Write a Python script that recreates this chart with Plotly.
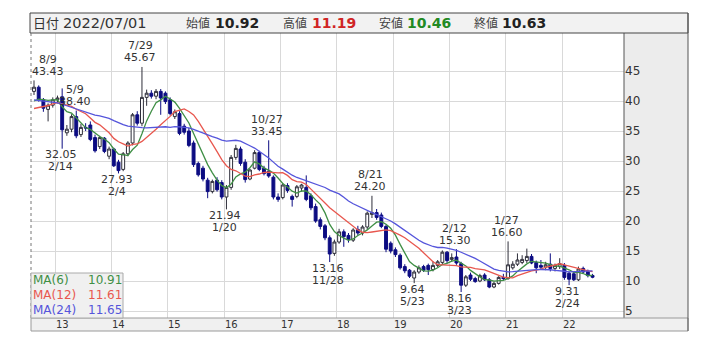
import pandas as pd
import plotly.graph_objects as go

# ---------------- data ----------------
months = pd.period_range("2012-08", periods=120, freq="M")

opens = [41.6, 42.3, 40.2, 38.6, 39.3, 40.2, 40.7, 34.7, 35.3, 37.4,
         34.4, 35.6, 36.0, 33.9, 32.4, 33.8, 30.8, 32.0, 29.8, 28.6,
         31.2, 33.0, 37.7, 36.3, 40.6, 41.3, 40.8, 41.6, 41.3, 40.2,
         37.4, 37.9, 35.8, 35.0, 33.0, 29.6, 28.8, 26.8, 24.9, 26.8,
         26.4, 24.0, 25.6, 30.6, 32.0, 29.8, 27.0, 28.8, 31.4, 28.8,
         28.3, 27.3, 24.0, 23.9, 25.9, 24.1, 24.1, 25.5, 25.6, 24.2,
         22.4, 20.2, 19.2, 17.2, 14.6, 16.5, 18.2, 17.6, 16.8, 18.6,
         18.0, 19.0, 21.1, 21.4, 21.0, 19.1, 16.3, 15.2, 14.3, 12.4,
         11.8, 10.5, 11.5, 12.4, 12.6, 11.9, 12.6, 13.1, 14.8, 13.6,
         14.0, 12.9, 9.3, 11.0, 10.4, 10.0, 11.0, 10.2, 9.0, 9.6,
         10.6, 10.4, 12.2, 12.8, 13.1, 13.4, 14.1, 13.1, 12.6, 12.3,
         12.8, 12.1, 12.4, 12.6, 11.3, 11.2, 10.2, 12.1, 11.6, 10.92]
highs = [43.43, 42.6, 40.5, 39.6, 40.6, 40.9, 42.1, 36.0, 37.8, 38.40,
         36.2, 36.3, 36.6, 34.4, 34.2, 34.0, 32.4, 32.2, 30.2, 31.5,
         33.3, 38.0, 38.3, 45.67, 41.9, 41.8, 42.0, 42.0, 41.6, 40.6,
         38.6, 38.3, 36.2, 35.5, 33.4, 29.9, 29.2, 27.2, 26.9, 27.3,
         26.8, 26.0, 31.0, 32.7, 32.4, 30.3, 28.7, 31.8, 31.7, 29.2,
         33.45, 27.6, 24.6, 26.3, 26.3, 24.4, 26.0, 26.2, 27.6, 24.6,
         22.9, 20.6, 19.5, 17.6, 16.9, 18.7, 18.6, 18.0, 18.8, 19.2,
         19.3, 21.6, 24.20, 22.0, 21.4, 19.4, 16.6, 15.6, 14.6, 12.8,
         12.0, 11.8, 12.6, 12.7, 12.9, 13.3, 13.5, 15.1, 15.0, 14.6,
         15.30, 13.2, 11.0, 11.4, 10.7, 11.2, 11.3, 10.5, 9.9, 10.8,
         11.2, 16.60, 13.3, 14.6, 14.3, 15.4, 14.5, 13.4, 13.5, 13.2,
         14.6, 12.9, 13.8, 13.0, 11.6, 11.5, 12.4, 12.4, 11.9, 11.19]
lows = [41.0, 39.9, 38.2, 36.6, 38.9, 39.6, 32.05, 34.2, 34.8, 33.8,
        34.0, 35.0, 33.3, 31.4, 32.0, 31.3, 30.3, 29.0, 27.93, 28.3,
        30.8, 32.6, 35.9, 35.8, 39.2, 40.4, 40.3, 37.7, 39.5, 37.6,
        37.0, 34.3, 34.4, 32.3, 29.0, 27.4, 26.6, 23.8, 24.6, 24.9,
        23.6, 21.94, 25.2, 30.2, 29.2, 26.4, 26.8, 28.6, 28.3, 27.6,
        27.2, 23.6, 23.2, 23.6, 24.7, 22.4, 23.8, 24.9, 23.3, 21.8,
        19.7, 18.6, 16.8, 13.16, 14.2, 16.2, 15.7, 16.4, 16.5, 17.6,
        17.6, 18.6, 20.5, 20.2, 18.8, 14.8, 14.6, 14.0, 11.9, 11.3,
        10.5, 9.64, 11.2, 11.5, 11.0, 11.6, 12.3, 12.8, 13.0, 13.2,
        12.7, 8.16, 9.0, 10.0, 9.7, 9.8, 10.0, 8.8, 8.8, 9.4,
        10.1, 10.2, 11.9, 12.5, 12.8, 13.0, 12.8, 11.3, 11.9, 11.8,
        11.6, 11.6, 12.0, 10.2, 9.31, 10.0, 10.0, 11.3, 10.6, 10.46]
closes = [42.3, 40.2, 38.8, 39.3, 40.2, 40.5, 35.2, 35.3, 37.4, 34.2,
          35.6, 35.5, 33.6, 31.7, 33.9, 31.6, 32.0, 29.2, 28.4, 31.2,
          33.0, 37.7, 36.3, 40.6, 41.3, 40.8, 41.6, 40.5, 39.9, 37.9,
          38.2, 34.6, 34.8, 32.6, 29.4, 27.7, 27.0, 24.9, 26.6, 25.2,
          24.0, 25.6, 30.6, 32.1, 29.6, 26.9, 28.5, 31.4, 28.6, 27.9,
          27.5, 24.0, 23.6, 26.0, 25.1, 23.6, 25.7, 26.0, 23.6, 22.2,
          20.0, 19.1, 17.2, 14.5, 16.5, 18.2, 17.4, 16.9, 18.5, 18.0,
          19.0, 21.3, 21.4, 20.6, 19.1, 15.3, 15.0, 14.4, 12.2, 11.7,
          10.8, 11.5, 12.2, 11.8, 11.9, 12.6, 13.2, 14.8, 13.4, 13.9,
          13.0, 9.3, 10.7, 10.3, 9.9, 10.9, 10.2, 9.0, 9.6, 10.6,
          10.4, 12.7, 12.8, 13.5, 13.6, 14.1, 13.0, 12.2, 12.3, 12.7,
          12.1, 12.6, 12.9, 10.6, 10.3, 10.2, 12.0, 11.5, 10.9, 10.63]
# closes of the 23 months before the window (only used to warm up the moving averages)
closes_before = [42.5, 43.0, 41.8, 42.6, 41.0, 40.5, 41.8, 42.4, 41.2, 40.6, 41.5, 40.3,
                 38.6, 37.2, 36.5, 37.0, 38.1, 37.6,
                 38.4, 39.2, 40.1, 39.6, 40.4]

header_date = "2022/07/01"
ohlc_names = ["始値", "高値", "安値", "終値"]
ohlc_texts = ["10.92", "11.19", "10.46", "10.63"]
ma_periods = [6, 12, 24]
ma_names = ["MA(6)", "MA(12)", "MA(24)"]
ma_last_texts = ["10.91", "11.61", "11.65"]
year_labels = ["13", "14", "15", "16", "17", "18", "19", "20", "21", "22"]

high_marks_idx = [0, 9, 23, 50, 72, 90, 101]
high_marks_date = ["8/9", "5/9", "7/29", "10/27", "8/21", "2/12", "1/27"]
low_marks_idx = [6, 18, 41, 63, 81, 91, 114]
low_marks_date = ["2/14", "2/4", "1/20", "11/28", "5/23", "3/23", "2/24"]

# ---------------- styling ----------------
FONT = "DejaVu Sans, Noto Sans CJK JP, sans-serif"
JFONT = "Noto Sans CJK JP, DejaVu Sans, sans-serif"
TXT = "#333333"
MA_COLORS = ["#3f8f45", "#e8574e", "#5555db"]
UP_LINE = "#2e2e3a"
DOWN = "#0c0c82"

W, H = 714, 340
L, R, T, B = 31, 90, 33, 22
PW, PH = W - L - R, H - T - B


def px(xp):
    return (xp - L) / PW


def py(yp):
    return (H - B - yp) / PH


x = list(range(len(closes)))
all_closes = pd.Series(closes_before + closes)
ma = [all_closes.rolling(n).mean().iloc[len(closes_before):].tolist() for n in ma_periods]

fig = go.Figure()
fig.add_trace(go.Candlestick(
    x=x, open=opens, high=highs, low=lows, close=closes,
    increasing=dict(fillcolor="white", line=dict(color=UP_LINE, width=1)),
    decreasing=dict(fillcolor=DOWN, line=dict(color=DOWN, width=1)),
    whiskerwidth=0, showlegend=False, hoverinfo="skip"))
for vals, col, name in zip(ma, MA_COLORS, ma_names):
    fig.add_trace(go.Scatter(x=x, y=vals, mode="lines", name=name,
                             line=dict(color=col, width=1.3), showlegend=False,
                             hoverinfo="skip"))

# year gridlines / labels from the month list
jan_idx = [i for i, m in enumerate(months) if m.month == 1]
grid_x = [i - 0.5 for i in jan_idx]
label_x = [i + 1 for i in jan_idx]

annotations = []
for lx, lab in zip(label_x, year_labels):
    annotations.append(dict(xref="x", yref="paper", x=lx, y=py(324.5), text=lab,
                            showarrow=False, xanchor="center", yanchor="middle",
                            font=dict(family=FONT, size=10, color=TXT)))

# high / low marks
for k, (i, d) in enumerate(zip(high_marks_idx, high_marks_date)):
    xs = 14 if i == 0 else -1.5
    annotations.append(dict(xref="x", yref="y", x=i, y=highs[i], text=f"{highs[i]:.2f}",
                            showarrow=False, xanchor="center", yanchor="middle",
                            xshift=xs, yshift=9, font=dict(family=FONT, size=11, color=TXT)))
    annotations.append(dict(xref="x", yref="y", x=i, y=highs[i], text=d,
                            showarrow=False, xanchor="center", yanchor="middle",
                            xshift=xs, yshift=21, font=dict(family=FONT, size=11, color=TXT)))
for i, d in zip(low_marks_idx, low_marks_date):
    annotations.append(dict(xref="x", yref="y", x=i, y=lows[i], text=f"{lows[i]:.2f}",
                            showarrow=False, xanchor="center", yanchor="middle",
                            xshift=-1.5, yshift=-6, font=dict(family=FONT, size=11, color=TXT)))
    annotations.append(dict(xref="x", yref="y", x=i, y=lows[i], text=d,
                            showarrow=False, xanchor="center", yanchor="middle",
                            xshift=-1.5, yshift=-18, font=dict(family=FONT, size=11, color=TXT)))


def ann(text, xp, yp, size, color=TXT, xanchor="left", family=FONT):
    return dict(xref="paper", yref="paper", x=px(xp), y=py(yp), text=text,
                showarrow=False, xanchor=xanchor, yanchor="middle",
                font=dict(family=family, size=size, color=color))


# header
annotations.append(ann("日付", 31, 23, 13, family=JFONT))
annotations.append(ann(header_date, 61, 23, 14.5))
hx_name = [184, 281, 377, 472]
hx_val = [213, 310, 405, 500]
val_cols = ["#222222", "#d02525", "#238a23", "#222222"]
for nm, vt, xn, xv, vc in zip(ohlc_names, ohlc_texts, hx_name, hx_val, val_cols):
    annotations.append(ann(nm, xn, 23, 12, color="#444444", family=JFONT))
    annotations.append(ann(f"<b>{vt}</b>", xv, 23, 14, color=vc))

# MA legend
for nm, vt, col, yp in zip(ma_names, ma_last_texts, MA_COLORS, [280, 295, 309.5]):
    annotations.append(ann(nm, 30.5, yp, 12, color=col))
    annotations.append(ann(vt, 124, yp, 12, color=col, xanchor="right"))

shapes = [
    # right axis panel
    dict(type="rect", xref="paper", yref="paper", x0=1, x1=px(688), y0=0, y1=1,
         fillcolor="#ececec", line=dict(width=0), layer="below"),
    dict(type="line", xref="paper", yref="paper", x0=1, x1=1, y0=0, y1=1,
         line=dict(color="#555555", width=1)),
    # bottom strip
    dict(type="rect", xref="paper", yref="paper", x0=0, x1=px(688), y0=py(331), y1=0,
         fillcolor="#f0f0f0", line=dict(color="#9a9a9a", width=1)),
    # header
    dict(type="rect", xref="paper", yref="paper", x0=px(30), x1=px(688), y0=1, y1=py(13),
         fillcolor="#f2f2f2", line=dict(color="#444444", width=1)),
    # right border
    dict(type="line", xref="paper", yref="paper", x0=px(688), x1=px(688), y0=py(331), y1=py(13),
         line=dict(color="#555555", width=1)),
    # dotted left border
    dict(type="line", xref="paper", yref="paper", x0=0, x1=0, y0=0, y1=1,
         line=dict(color="#777777", width=1, dash="dot")),
    # MA legend box
    dict(type="rect", xref="paper", yref="paper", x0=0, x1=px(123), y0=0, y1=py(273),
         fillcolor="#f0f0f0", line=dict(color="#aaaaaa", width=1), layer="above"),
]

fig.update_layout(
    width=W, height=H, margin=dict(l=L, r=R, t=T, b=B, autoexpand=False),
    paper_bgcolor="white", plot_bgcolor="white", boxgap=0.12,
    showlegend=False, annotations=annotations, shapes=shapes,
    xaxis=dict(range=[-0.64, 125.7], tickvals=grid_x, showticklabels=False,
               showgrid=True, gridcolor="#d9d9d9", gridwidth=1, zeroline=False,
               showline=False, ticks="", rangeslider=dict(visible=False), fixedrange=True),
    yaxis=dict(range=[3.833, 51.333], tickvals=[5, 10, 15, 20, 25, 30, 35, 40, 45],
               side="right", showgrid=True, gridcolor="#d9d9d9", gridwidth=1,
               zeroline=False, showline=False, ticks="",
               tickfont=dict(family=FONT, size=12, color=TXT)),
)

fig.write_html("out.html")
